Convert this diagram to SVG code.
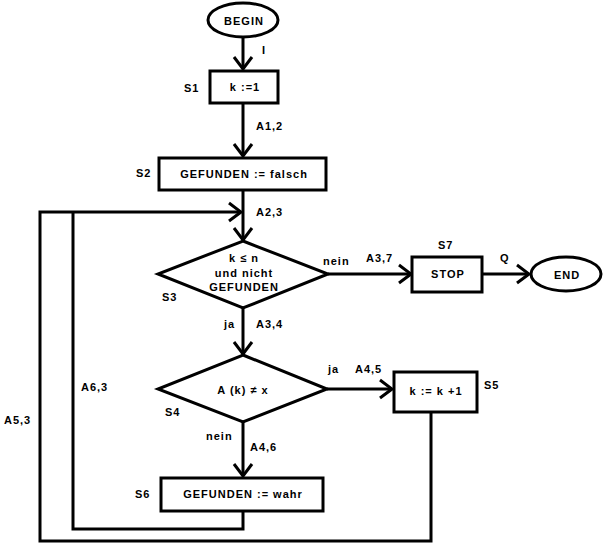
<svg xmlns="http://www.w3.org/2000/svg" width="604" height="545" viewBox="0 0 604 545">
<style>
text{font-family:"Liberation Sans",Arial,sans-serif;font-weight:bold;font-size:11px;letter-spacing:1px;fill:#000}
.c{text-anchor:middle}
.shape{fill:#fff;stroke:#000;stroke-width:3}
.conn{fill:none;stroke:#000;stroke-width:3}
</style>
<defs>
<marker id="arr" viewBox="-14 -11 16 22" refX="0" refY="0" markerWidth="16" markerHeight="22" markerUnits="userSpaceOnUse" orient="auto">
<path d="M-12,-9 L0,0 L-12,9" fill="none" stroke="#000" stroke-width="3"/>
</marker>
</defs>
<rect width="604" height="545" fill="#fff"/>
<g id="connectors">
<path class="conn" d="M243,37 V69" marker-end="url(#arr)"/>
<path class="conn" d="M243,103 V156" marker-end="url(#arr)"/>
<path class="conn" d="M243,190 V240" marker-end="url(#arr)"/>
<path class="conn" d="M431,412 V541 H40 V212 H241" marker-end="url(#arr)"/>
<path class="conn" d="M243,511 V529 H73 V212"/>
<path class="conn" d="M328,274 H411" marker-end="url(#arr)"/>
<path class="conn" d="M482,274 H529" marker-end="url(#arr)"/>
<path class="conn" d="M243,308 V354" marker-end="url(#arr)"/>
<path class="conn" d="M327,389 H392" marker-end="url(#arr)"/>
<path class="conn" d="M243,422 V476" marker-end="url(#arr)"/>
<text x="262" y="54">I</text>
<text x="256" y="130">A1,2</text>
<text x="256" y="216">A2,3</text>
<text x="323" y="265">nein</text>
<text x="366" y="262">A3,7</text>
<text x="500" y="262">Q</text>
<text x="224" y="328">ja</text>
<text x="256" y="328">A3,4</text>
<text x="328" y="373">ja</text>
<text x="355" y="373">A4,5</text>
<text x="206" y="440">nein</text>
<text x="250" y="451">A4,6</text>
<text x="81" y="391">A6,3</text>
<text x="4" y="424">A5,3</text>
</g>
<g id="BEGIN">
<ellipse class="shape" cx="243" cy="20" rx="35" ry="17"/>
<text class="c" x="244" y="25">BEGIN</text>
</g>
<g id="S1">
<rect class="shape" x="210" y="71" width="68" height="32"/>
<text class="c" x="245" y="91">k :=1</text>
<text x="184" y="92">S1</text>
</g>
<g id="S2">
<rect class="shape" x="159" y="158" width="167" height="32"/>
<text class="c" x="244" y="178">GEFUNDEN := falsch</text>
<text x="136" y="177">S2</text>
</g>
<g id="S3">
<polygon class="shape" points="243,241 328,274 243,308 158,274"/>
<text class="c" x="244" y="262">k  ≤ n</text>
<text class="c" x="244" y="277">und nicht</text>
<text class="c" x="244" y="291">GEFUNDEN</text>
<text x="162" y="301">S3</text>
</g>
<g id="S7">
<rect class="shape" x="412" y="257" width="70" height="35"/>
<text class="c" x="448" y="278">STOP</text>
<text x="438" y="249">S7</text>
</g>
<g id="END">
<ellipse class="shape" cx="566" cy="274" rx="35" ry="17"/>
<text class="c" x="567" y="279">END</text>
</g>
<g id="S4">
<polygon class="shape" points="243,355 327,389 243,422 158,389"/>
<text class="c" x="243" y="394">A (k) ≠ x</text>
<text x="165" y="416">S4</text>
</g>
<g id="S5">
<rect class="shape" x="394" y="372" width="83" height="40"/>
<text class="c" x="436" y="395">k := k +1</text>
<text x="484" y="389">S5</text>
</g>
<g id="S6">
<rect class="shape" x="161" y="478" width="162" height="33"/>
<text class="c" x="243" y="498">GEFUNDEN := wahr</text>
<text x="135" y="498">S6</text>
</g>
</svg>
